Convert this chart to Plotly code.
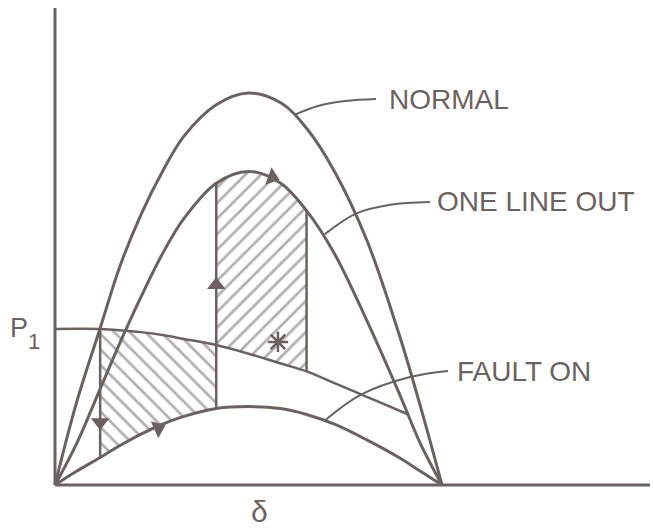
import plotly.graph_objects as go

INK = "#6b625f"
PAPER = "#ffffff"
FONT = "Liberation Sans"

# Rotor angle (degrees) at which the power-angle curves are sampled
delta = [0, 10, 21, 30, 40, 50, 60, 75, 90, 105, 117, 130, 145, 160, 170, 180]
p_normal = [0, 0.42, 0.80, 1.11, 1.38, 1.60, 1.78, 1.94, 2.00, 1.95, 1.82, 1.60, 1.25, 0.77, 0.40, 0]
p_one_line_out = [0, 0.21, 0.49, 0.72, 0.96, 1.18, 1.36, 1.54, 1.60, 1.54, 1.40, 1.18, 0.84, 0.47, 0.21, 0]
p_fault_on = [0, 0.07, 0.14, 0.20, 0.26, 0.31, 0.35, 0.39, 0.40, 0.39, 0.36, 0.31, 0.23, 0.14, 0.07, 0]

# Mechanical input P1, sagging as the rotor advances
delta_p1 = [0, 10, 21, 30, 40, 50, 60, 75, 90, 105, 117, 130, 145, 160, 164]
p_mech = [0.796, 0.797, 0.796, 0.79, 0.78, 0.765, 0.745, 0.714, 0.67, 0.62, 0.58, 0.52, 0.45, 0.38, 0.36]

# Switching angles: fault applied, fault cleared, maximum swing
delta_fault = 21
delta_clear = 75
delta_max = 117

# Direction-of-travel arrows along the swing
arrow_delta = [21, 48, 75, 101]
arrow_p = [0.32, 0.29, 1.02, 1.57]
arrow_symbol = ["triangle-down", "triangle-right", "triangle-up", "triangle-right"]
arrow_angle = [0, -24, 0, 20]

# Marker inside the decelerating area
star_delta = [103.7]
star_p = [0.73]

# Leader lines from the curve labels
normal_lead_d = [149.3, 135.0, 122.3, 111.6]
normal_lead_p = [1.969, 1.959, 1.934, 1.89]
one_lead_d = [174.4, 156.0, 140.0, 125.5]
one_lead_p = [1.444, 1.43, 1.385, 1.28]
fault_lead_d = [182.8, 165.1, 141.9, 125.6]
fault_lead_p = [0.582, 0.551, 0.459, 0.33]


def span(xs, ys, lo, hi):
    pts = [(x, y) for x, y in zip(xs, ys) if lo <= x <= hi]
    return [p[0] for p in pts], [p[1] for p in pts]


def at(xs, ys, x0):
    return ys[xs.index(x0)]


fig = go.Figure()


def band(lower, upper, shape):
    fig.add_trace(go.Scatter(x=lower[0], y=lower[1], mode="lines",
                             line=dict(width=0, shape="spline"),
                             hoverinfo="skip"))
    fig.add_trace(go.Scatter(x=upper[0], y=upper[1], mode="lines",
                             line=dict(width=0, shape="spline"),
                             fill="tonexty", fillcolor=PAPER,
                             fillpattern=dict(shape=shape, size=11, solidity=0.25,
                                              fgcolor=INK, bgcolor=PAPER),
                             hoverinfo="skip"))


# Accelerating area (fault on) and decelerating area (one line out)
band(span(delta, p_fault_on, delta_fault, delta_clear),
     span(delta_p1, p_mech, delta_fault, delta_clear), "\\")
band(span(delta_p1, p_mech, delta_clear, delta_max),
     span(delta, p_one_line_out, delta_clear, delta_max), "/")

curve_line = dict(color=INK, width=3, shape="spline")
for ys in (p_normal, p_one_line_out, p_fault_on):
    fig.add_trace(go.Scatter(x=delta, y=ys, mode="lines", line=curve_line))
fig.add_trace(go.Scatter(x=delta_p1, y=p_mech, mode="lines",
                         line=dict(color=INK, width=2.5, shape="spline")))

# Vertical transitions at the switching angles
vx = [delta_fault, delta_fault, None, delta_clear, delta_clear, None, delta_max, delta_max]
vy = [at(delta, p_fault_on, delta_fault), at(delta_p1, p_mech, delta_fault), None,
      at(delta, p_fault_on, delta_clear), at(delta, p_one_line_out, delta_clear), None,
      at(delta_p1, p_mech, delta_max), at(delta, p_one_line_out, delta_max)]
fig.add_trace(go.Scatter(x=vx, y=vy, mode="lines", line=dict(color=INK, width=2.5)))

for lx, ly in ((normal_lead_d, normal_lead_p), (one_lead_d, one_lead_p),
               (fault_lead_d, fault_lead_p)):
    fig.add_trace(go.Scatter(x=lx, y=ly, mode="lines",
                             line=dict(color=INK, width=2, shape="spline")))

fig.add_trace(go.Scatter(x=arrow_delta, y=arrow_p, mode="markers",
                         marker=dict(symbol=arrow_symbol, angle=arrow_angle, size=16,
                                     color=INK, line=dict(width=0))))
fig.add_trace(go.Scatter(x=star_delta, y=star_p, mode="markers",
                         marker=dict(symbol="asterisk-open", size=17, color=INK,
                                     line=dict(color=INK, width=2.5))))

# Axes drawn from the origin
fig.add_shape(type="line", x0=0, y0=0, x1=0, y1=2.434, line=dict(color=INK, width=3))
fig.add_shape(type="line", x0=0, y0=0, x1=276.7, y1=0, line=dict(color=INK, width=3))

label_font = dict(family=FONT, size=28, color=INK)
fig.add_annotation(x=154.4, y=1.969, text="NORMAL", xanchor="left", yanchor="middle",
                   showarrow=False, font=label_font)
fig.add_annotation(x=176.7, y=1.449, text="ONE LINE OUT", xanchor="left", yanchor="middle",
                   showarrow=False, font=label_font)
fig.add_annotation(x=186.0, y=0.577, text="FAULT ON", xanchor="left", yanchor="middle",
                   showarrow=False, font=label_font)
fig.add_annotation(x=-16.7, y=0.80, text="P", showarrow=False,
                   font=dict(family=FONT, size=27, color=INK))
fig.add_annotation(x=-9.8, y=0.73, text="1", showarrow=False,
                   font=dict(family=FONT, size=22, color=INK))
fig.add_annotation(x=95.3, y=-0.135, text="δ", showarrow=False,
                   font=dict(family=FONT, size=30, color=INK))

fig.update_layout(
    width=653, height=529,
    margin=dict(l=0, r=0, t=0, b=0),
    paper_bgcolor=PAPER, plot_bgcolor=PAPER,
    showlegend=False,
    xaxis=dict(range=[-25.58, 278.14], visible=False),
    yaxis=dict(range=[-0.2245, 2.4745], visible=False),
)

fig.write_html("out.html")
